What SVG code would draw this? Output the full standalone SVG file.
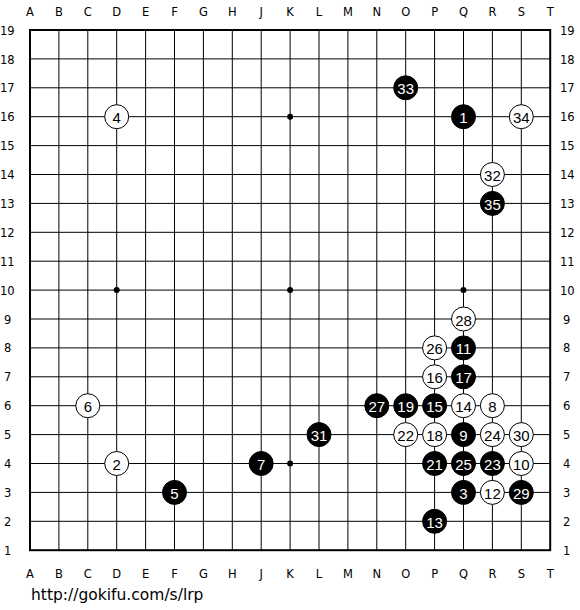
<svg xmlns="http://www.w3.org/2000/svg" width="580" height="610" viewBox="0 0 580 610">
<style>
.lbl{font-family:"DejaVu Sans","Liberation Sans",sans-serif;font-size:11.5px;fill:#000;text-anchor:middle}
.rl{font-family:"DejaVu Sans","Liberation Sans",sans-serif;font-size:11.5px;fill:#000}
.b circle{fill:#000;stroke:#000;stroke-width:1}
.w circle{fill:#fff;stroke:#000;stroke-width:1}
.b text{fill:#fff}
.w text{fill:#000}
.b text,.w text{font-family:"Liberation Sans","DejaVu Sans",sans-serif;font-size:15px;text-anchor:middle;dominant-baseline:central}
.url{font-family:"DejaVu Sans","Liberation Sans",sans-serif;font-size:15.5px;fill:#000}
</style>
<rect width="580" height="610" fill="#fff"/>
<g id="grid" stroke="#000" stroke-width="1" fill="none">
<path d="M58.9 30V550.2M87.8 30V550.2M116.7 30V550.2M145.6 30V550.2M174.5 30V550.2M203.4 30V550.2M232.3 30V550.2M261.2 30V550.2M290.1 30V550.2M319 30V550.2M347.9 30V550.2M376.8 30V550.2M405.7 30V550.2M434.6 30V550.2M463.5 30V550.2M492.4 30V550.2M521.3 30V550.2"/>
<path d="M30 58.9H550.2M30 87.8H550.2M30 116.7H550.2M30 145.6H550.2M30 174.5H550.2M30 203.4H550.2M30 232.3H550.2M30 261.2H550.2M30 290.1H550.2M30 319H550.2M30 347.9H550.2M30 376.8H550.2M30 405.7H550.2M30 434.6H550.2M30 463.5H550.2M30 492.4H550.2M30 521.3H550.2"/>
<rect x="30" y="30" width="520.2" height="520.2" stroke-width="2"/>
</g>
<g id="hoshi" fill="#000">
<circle cx="116.7" cy="116.7" r="3"/><circle cx="290.1" cy="116.7" r="3"/><circle cx="463.5" cy="116.7" r="3"/>
<circle cx="116.7" cy="290.1" r="3"/><circle cx="290.1" cy="290.1" r="3"/><circle cx="463.5" cy="290.1" r="3"/>
<circle cx="116.7" cy="463.5" r="3"/><circle cx="290.1" cy="463.5" r="3"/><circle cx="463.5" cy="463.5" r="3"/>
</g>
<g id="col-top">
<text class="lbl" x="30" y="16">A</text><text class="lbl" x="58.9" y="16">B</text><text class="lbl" x="87.8" y="16">C</text><text class="lbl" x="116.7" y="16">D</text><text class="lbl" x="145.6" y="16">E</text><text class="lbl" x="174.5" y="16">F</text><text class="lbl" x="203.4" y="16">G</text><text class="lbl" x="232.3" y="16">H</text><text class="lbl" x="261.2" y="16">J</text><text class="lbl" x="290.1" y="16">K</text><text class="lbl" x="319" y="16">L</text><text class="lbl" x="347.9" y="16">M</text><text class="lbl" x="376.8" y="16">N</text><text class="lbl" x="405.7" y="16">O</text><text class="lbl" x="434.6" y="16">P</text><text class="lbl" x="463.5" y="16">Q</text><text class="lbl" x="492.4" y="16">R</text><text class="lbl" x="521.3" y="16">S</text><text class="lbl" x="550.2" y="16">T</text>
</g>
<g id="col-bottom">
<text class="lbl" x="30" y="578">A</text><text class="lbl" x="58.9" y="578">B</text><text class="lbl" x="87.8" y="578">C</text><text class="lbl" x="116.7" y="578">D</text><text class="lbl" x="145.6" y="578">E</text><text class="lbl" x="174.5" y="578">F</text><text class="lbl" x="203.4" y="578">G</text><text class="lbl" x="232.3" y="578">H</text><text class="lbl" x="261.2" y="578">J</text><text class="lbl" x="290.1" y="578">K</text><text class="lbl" x="319" y="578">L</text><text class="lbl" x="347.9" y="578">M</text><text class="lbl" x="376.8" y="578">N</text><text class="lbl" x="405.7" y="578">O</text><text class="lbl" x="434.6" y="578">P</text><text class="lbl" x="463.5" y="578">Q</text><text class="lbl" x="492.4" y="578">R</text><text class="lbl" x="521.3" y="578">S</text><text class="lbl" x="550.2" y="578">T</text>
</g>
<g id="row-left">
<text class="rl" x="0" y="35">19</text><text class="rl" x="0" y="64">18</text><text class="rl" x="0" y="92">17</text><text class="rl" x="0" y="121">16</text><text class="rl" x="0" y="150">15</text><text class="rl" x="0" y="179">14</text><text class="rl" x="0" y="208">13</text><text class="rl" x="0" y="237">12</text><text class="rl" x="0" y="266">11</text><text class="rl" x="0" y="295">10</text><text class="rl" x="4" y="324">9</text><text class="rl" x="4" y="352">8</text><text class="rl" x="4" y="381">7</text><text class="rl" x="4" y="410">6</text><text class="rl" x="4" y="439">5</text><text class="rl" x="4" y="468">4</text><text class="rl" x="4" y="497">3</text><text class="rl" x="4" y="526">2</text><text class="rl" x="4" y="555">1</text>
</g>
<g id="row-right">
<text class="rl" x="560" y="35">19</text><text class="rl" x="560" y="64">18</text><text class="rl" x="560" y="92">17</text><text class="rl" x="560" y="121">16</text><text class="rl" x="560" y="150">15</text><text class="rl" x="560" y="179">14</text><text class="rl" x="560" y="208">13</text><text class="rl" x="560" y="237">12</text><text class="rl" x="560" y="266">11</text><text class="rl" x="560" y="295">10</text><text class="rl" x="563" y="324">9</text><text class="rl" x="563" y="352">8</text><text class="rl" x="563" y="381">7</text><text class="rl" x="563" y="410">6</text><text class="rl" x="563" y="439">5</text><text class="rl" x="563" y="468">4</text><text class="rl" x="563" y="497">3</text><text class="rl" x="563" y="526">2</text><text class="rl" x="563" y="555">1</text>
</g>
<g id="s1" class="b"><circle cx="463.5" cy="116.7" r="12"/><text x="463.5" y="117.7">1</text></g>
<g id="s2" class="w"><circle cx="116.7" cy="463.5" r="12"/><text x="116.7" y="464.5">2</text></g>
<g id="s3" class="b"><circle cx="463.5" cy="492.4" r="12"/><text x="463.5" y="493.4">3</text></g>
<g id="s4" class="w"><circle cx="116.7" cy="116.7" r="12"/><text x="116.7" y="117.7">4</text></g>
<g id="s5" class="b"><circle cx="174.5" cy="492.4" r="12"/><text x="174.5" y="493.4">5</text></g>
<g id="s6" class="w"><circle cx="87.8" cy="405.7" r="12"/><text x="87.8" y="406.7">6</text></g>
<g id="s7" class="b"><circle cx="261.2" cy="463.5" r="12"/><text x="261.2" y="464.5">7</text></g>
<g id="s8" class="w"><circle cx="492.4" cy="405.7" r="12"/><text x="492.4" y="406.7">8</text></g>
<g id="s9" class="b"><circle cx="463.5" cy="434.6" r="12"/><text x="463.5" y="435.6">9</text></g>
<g id="s10" class="w"><circle cx="521.3" cy="463.5" r="12"/><text x="521.3" y="464.5">10</text></g>
<g id="s11" class="b"><circle cx="463.5" cy="347.9" r="12"/><text x="463.5" y="348.9">11</text></g>
<g id="s12" class="w"><circle cx="492.4" cy="492.4" r="12"/><text x="492.4" y="493.4">12</text></g>
<g id="s13" class="b"><circle cx="434.6" cy="521.3" r="12"/><text x="434.6" y="522.3">13</text></g>
<g id="s14" class="w"><circle cx="463.5" cy="405.7" r="12"/><text x="463.5" y="406.7">14</text></g>
<g id="s15" class="b"><circle cx="434.6" cy="405.7" r="12"/><text x="434.6" y="406.7">15</text></g>
<g id="s16" class="w"><circle cx="434.6" cy="376.8" r="12"/><text x="434.6" y="377.8">16</text></g>
<g id="s17" class="b"><circle cx="463.5" cy="376.8" r="12"/><text x="463.5" y="377.8">17</text></g>
<g id="s18" class="w"><circle cx="434.6" cy="434.6" r="12"/><text x="434.6" y="435.6">18</text></g>
<g id="s19" class="b"><circle cx="405.7" cy="405.7" r="12"/><text x="405.7" y="406.7">19</text></g>
<g id="s21" class="b"><circle cx="434.6" cy="463.5" r="12"/><text x="434.6" y="464.5">21</text></g>
<g id="s22" class="w"><circle cx="405.7" cy="434.6" r="12"/><text x="405.7" y="435.6">22</text></g>
<g id="s23" class="b"><circle cx="492.4" cy="463.5" r="12"/><text x="492.4" y="464.5">23</text></g>
<g id="s24" class="w"><circle cx="492.4" cy="434.6" r="12"/><text x="492.4" y="435.6">24</text></g>
<g id="s25" class="b"><circle cx="463.5" cy="463.5" r="12"/><text x="463.5" y="464.5">25</text></g>
<g id="s26" class="w"><circle cx="434.6" cy="347.9" r="12"/><text x="434.6" y="348.9">26</text></g>
<g id="s27" class="b"><circle cx="376.8" cy="405.7" r="12"/><text x="376.8" y="406.7">27</text></g>
<g id="s28" class="w"><circle cx="463.5" cy="319" r="12"/><text x="463.5" y="320">28</text></g>
<g id="s29" class="b"><circle cx="521.3" cy="492.4" r="12"/><text x="521.3" y="493.4">29</text></g>
<g id="s30" class="w"><circle cx="521.3" cy="434.6" r="12"/><text x="521.3" y="435.6">30</text></g>
<g id="s31" class="b"><circle cx="319" cy="434.6" r="12"/><text x="319" y="435.6">31</text></g>
<g id="s32" class="w"><circle cx="492.4" cy="174.5" r="12"/><text x="492.4" y="175.5">32</text></g>
<g id="s33" class="b"><circle cx="405.7" cy="87.8" r="12"/><text x="405.7" y="88.8">33</text></g>
<g id="s34" class="w"><circle cx="521.3" cy="116.7" r="12"/><text x="521.3" y="117.7">34</text></g>
<g id="s35" class="b"><circle cx="492.4" cy="203.4" r="12"/><text x="492.4" y="204.4">35</text></g>
<text class="url" x="31" y="600">http://gokifu.com/s/lrp</text>
</svg>
